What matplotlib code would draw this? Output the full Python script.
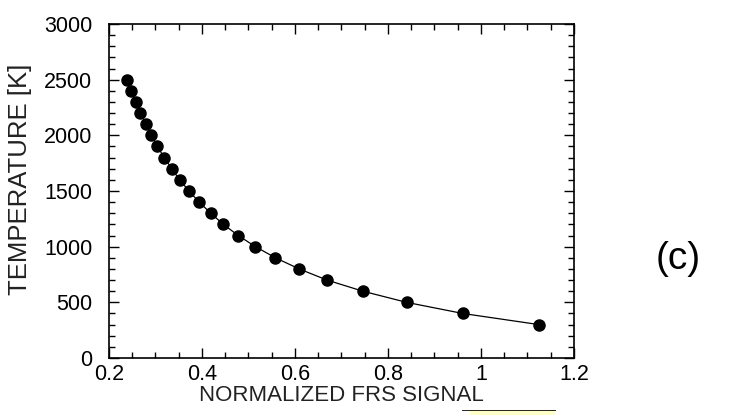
import matplotlib.pyplot as plt
import matplotlib.ticker as ticker
from matplotlib.patches import Rectangle

# Data (temperature vs normalized FRS signal)
frs_signal = [0.239, 0.247, 0.258, 0.267, 0.280, 0.291, 0.304, 0.319, 0.335, 0.352,
              0.372, 0.394, 0.419, 0.446, 0.478, 0.515, 0.558, 0.609, 0.669, 0.746,
              0.840, 0.961, 1.125]
temperature = [2500, 2400, 2300, 2200, 2100, 2000, 1900, 1800, 1700, 1600,
               1500, 1400, 1300, 1200, 1100, 1000, 900, 800, 700, 600,
               500, 400, 300]
x_ticks = [0.2, 0.4, 0.6, 0.8, 1.0, 1.2]
x_tick_labels = ['0.2', '0.4', '0.6', '0.8', '1', '1.2']
y_ticks = [0, 500, 1000, 1500, 2000, 2500, 3000]

plt.rcParams['font.family'] = ['Liberation Sans', 'DejaVu Sans']

fig = plt.figure(figsize=(7.41, 4.15), dpi=100)
ax = fig.add_axes([0.1471, 0.1373, 0.6275, 0.8049])

# Curve plus filled circles
ax.plot(frs_signal, temperature, color='black', lw=0.9, zorder=2)
ax.plot(frs_signal, temperature, 'o', color='black', ms=8, zorder=3)

ax.set_xlim(0.2, 1.2)
ax.set_ylim(0, 3000)
ax.set_xticks(x_ticks)
ax.set_xticklabels(x_tick_labels)
ax.set_yticks(y_ticks)
ax.xaxis.set_minor_locator(ticker.MultipleLocator(0.05))
ax.yaxis.set_minor_locator(ticker.MultipleLocator(100))

ax.tick_params(which='both', direction='in', top=True, right=True,
               labelsize=15.5, colors='black', width=1.0)
ax.tick_params(axis='x', pad=4)
ax.tick_params(axis='y', pad=12)
ax.tick_params(which='major', length=7)
ax.tick_params(which='minor', length=4)
for s in ax.spines.values():
    s.set_linewidth(1.2)

ax.set_xlabel('NORMALIZED FRS SIGNAL', fontsize=16, labelpad=0.5, color='#222222')
ax.set_ylabel('TEMPERATURE [K]', fontsize=18.5, color='#222222')
ax.yaxis.set_label_coords(-0.165, 0.535)

fig.text(0.915, 0.375, '(c)', fontsize=28, ha='center', va='center')

# Fragment of highlighted text cropped at the bottom edge
fig.patches.append(Rectangle((470 / 741, 0), 85 / 741, 5 / 415, transform=fig.transFigure,
                             facecolor='#ffffc8', edgecolor='none'))
fig.add_artist(plt.Line2D([462 / 741, 555 / 741], [5 / 415, 5 / 415],
                          transform=fig.transFigure, color='black', lw=0.6))

fig.savefig('out.png', dpi=100)
